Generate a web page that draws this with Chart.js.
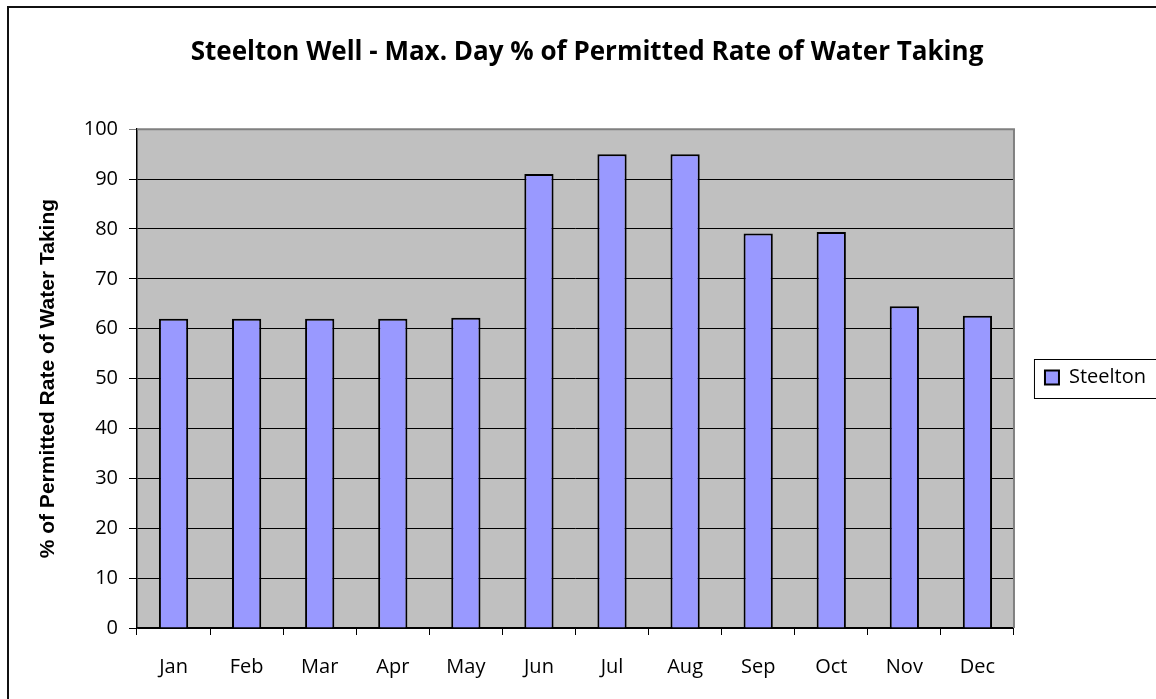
<!DOCTYPE html>
<html>
<head>
<meta charset="utf-8">
<title>Steelton Well</title>
<script src="https://cdn.jsdelivr.net/npm/chart.js@4.4.1/dist/chart.umd.min.js"></script>
<style>
    html, body { margin: 0; padding: 0; background: #fff; overflow: hidden; }
    #frame {
        position: absolute; left: 7px; top: 6px; width: 1300px; height: 900px;
        border-left: 2px solid #111; border-top: 2px solid #111;
    }
    #wrap { position: absolute; left: 0; top: 0; width: 1156px; height: 699px; }
</style>
</head>
<body>
<div id="frame"></div>
<div id="wrap"><canvas id="chart"></canvas></div>
<script>
/**
 * Steelton Well - max day % of permitted rate, by month
 */
const months = ['Jan', 'Feb', 'Mar', 'Apr', 'May', 'Jun', 'Jul', 'Aug', 'Sep', 'Oct', 'Nov', 'Dec'];
const steeltonValues = [62, 62, 62, 62, 62.2, 91, 95, 95, 79.1, 79.4, 64.5, 62.6];
const yTicks = [0, 10, 20, 30, 40, 50, 60, 70, 80, 90, 100];

const labelFont = 'Open Sans';

// grey plot area with grey top/right edges
const plotBackground = {
    id: 'plotBackground',
    beforeDraw(chart) {
        const { ctx, chartArea: a } = chart;
        ctx.save();
        ctx.fillStyle = '#C0C0C0';
        ctx.fillRect(a.left, a.top, a.right - a.left, a.bottom - a.top);
        ctx.restore();
    },
    afterDatasetsDraw(chart) {
        const { ctx, chartArea: a } = chart;
        ctx.save();
        ctx.strokeStyle = '#808080';
        ctx.lineWidth = 2;
        ctx.beginPath();
        ctx.moveTo(a.left, a.top);
        ctx.lineTo(a.right, a.top);
        ctx.lineTo(a.right, a.bottom);
        ctx.stroke();
        ctx.restore();
    }
};

// box round the legend, like the spreadsheet one
const legendFrame = {
    id: 'legendFrame',
    afterDraw(chart) {
        const legend = chart.legend;
        if (!legend || !legend.legendHitBoxes || !legend.legendHitBoxes.length) return;
        const hb = legend.legendHitBoxes[0];
        const cy = hb.top + hb.height / 2;
        const { ctx } = chart;
        ctx.save();
        ctx.strokeStyle = '#000';
        ctx.lineWidth = 1;
        ctx.strokeRect(hb.left - 10.5, Math.round(cy - 19) + 0.5, 200, 39);
        ctx.restore();
    }
};

const ctx = document.getElementById('chart').getContext('2d');

new Chart(ctx, {
    type: 'bar',
    data: {
        labels: months,
        datasets: [{
            label: 'Steelton',
            data: steeltonValues,
            backgroundColor: '#9999FF',
            borderColor: '#000',
            borderWidth: 2,
            barPercentage: 0.4,
            categoryPercentage: 1.0
        }]
    },
    options: {
        responsive: true,
        maintainAspectRatio: false,
        animation: false,
        layout: {
            padding: { left: 18, right: 0, top: 0, bottom: 0 }
        },
        scales: {
            x: {
                offset: true,
                grid: {
                    display: true,
                    drawOnChartArea: false,
                    offset: true,
                    color: '#000',
                    tickLength: 7
                },
                border: { display: true, color: '#000', width: 1.5 },
                ticks: {
                    color: '#000',
                    padding: 20,
                    font: { family: labelFont, size: 20 }
                },
                afterFit(scale) { scale.height = 71; }
            },
            y: {
                min: 0,
                max: 100,
                afterBuildTicks(scale) {
                    scale.ticks = yTicks.map(v => ({ value: v }));
                },
                grid: {
                    color: c => (c.tick && c.tick.value === 100 ? '#808080' : '#000'),
                    lineWidth: 1,
                    tickLength: 8
                },
                border: { display: true, color: '#000', width: 1.5 },
                ticks: {
                    color: '#000',
                    padding: 11,
                    font: { family: labelFont, size: 20 }
                },
                title: {
                    display: true,
                    text: '% of Permitted Rate of Water Taking',
                    color: '#000',
                    padding: { top: 18, bottom: 0 },
                    font: { family: 'Liberation Sans', size: 21, weight: 'bold' }
                },
                afterFit(scale) { scale.width = 119; }
            }
        },
        plugins: {
            title: {
                display: true,
                text: 'Steelton Well - Max. Day % of Permitted Rate of Water Taking',
                color: '#000',
                font: { family: labelFont, size: 26, weight: 'bold' },
                padding: { top: 37, bottom: 61 }
            },
            legend: {
                position: 'right',
                // empty title only pushes the single item down to the plot's middle
                title: {
                    display: true,
                    text: '',
                    font: { family: labelFont, size: 20 },
                    padding: { top: 16, bottom: 16 }
                },
                labels: {
                    color: '#000',
                    boxWidth: 14,
                    boxHeight: 14,
                    padding: 31,
                    font: { family: labelFont, size: 20 }
                }
            },
            tooltip: { enabled: false }
        }
    },
    plugins: [plotBackground, legendFrame]
});
</script>
</body>
</html>
